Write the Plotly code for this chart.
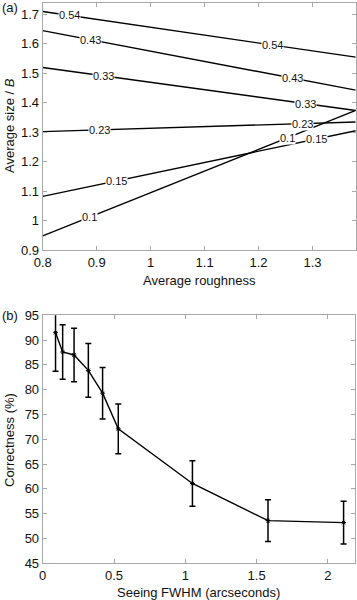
import plotly.graph_objects as go

# ---- Panel (a): contour lines ----
levels = ["0.54", "0.43", "0.33", "0.23", "0.15", "0.1"]
rough_x = [0.8, 1.38]
size_left = [1.71, 1.645, 1.52, 1.302, 1.082, 0.948]
size_right = [1.555, 1.443, 1.374, 1.335, 1.305, 1.374]
label_x1 = [0.85, 0.889, 0.912, 0.906, 0.936, 0.886]
label_x2 = [1.226, 1.263, 1.287, 1.281, 1.307, 1.254]
a_xticks = [0.8, 0.9, 1.0, 1.1, 1.2, 1.3]
a_yticks = [0.9, 1.0, 1.1, 1.2, 1.3, 1.4, 1.5, 1.6, 1.7]

# ---- Panel (b): correctness vs seeing ----
seeing = [0.09, 0.14, 0.22, 0.32, 0.42, 0.53, 1.05, 1.58, 2.11]
correct = [91.5, 87.6, 87.0, 83.9, 79.3, 72.1, 61.1, 53.6, 53.2]
err = [7.8, 5.5, 5.4, 5.4, 5.2, 5.0, 4.6, 4.2, 4.3]
b_xticks = [0, 0.5, 1, 1.5, 2]
b_yticks = [45, 50, 55, 60, 65, 70, 75, 80, 85, 90, 95]

W, H = 357, 600
FONT = "Liberation Sans, Arial, Helvetica, sans-serif"
AX = "#a8a8a8"

fig = go.Figure()

annotations = []
for lev, yl, yr, lx1, lx2 in zip(levels, size_left, size_right, label_x1, label_x2):
    fig.add_trace(go.Scatter(x=rough_x, y=[yl, yr], mode="lines",
                             line=dict(color="black", width=1.4),
                             xaxis="x", yaxis="y", showlegend=False))
    for lx in (lx1, lx2):
        ly = yl + (yr - yl) * (lx - rough_x[0]) / (rough_x[1] - rough_x[0])
        annotations.append(dict(x=lx, y=ly, xref="x", yref="y", text=lev,
                                showarrow=False, bgcolor="white", borderpad=0,
                                font=dict(size=11, color="#111", family=FONT)))

fig.add_trace(go.Scatter(x=seeing, y=correct, mode="lines+markers",
                         line=dict(color="black", width=1.4),
                         marker=dict(symbol="asterisk-open", size=4, color="black",
                                     line=dict(width=1, color="black")),
                         error_y=dict(type="data", array=err, visible=True,
                                      color="black", thickness=1.5, width=3),
                         xaxis="x2", yaxis="y2", showlegend=False))

x_dom = [42.7 / W, 355.7 / W]
axis_common = dict(showline=True, linecolor=AX, linewidth=1, mirror="ticks",
                   ticks="inside", ticklen=4, tickcolor=AX, showgrid=False,
                   zeroline=False, automargin=False,
                   tickfont=dict(size=13, color="#111", family=FONT))

fig.update_layout(
    width=W, height=H,
    margin=dict(l=0, r=0, t=0, b=0),
    paper_bgcolor="white", plot_bgcolor="white",
    font=dict(family=FONT, color="#111"),
    xaxis=dict(domain=x_dom, range=[0.8, 1.38], tickvals=a_xticks,
               anchor="y", **axis_common),
    yaxis=dict(domain=[1 - 250 / H, 1 - 2.7 / H], range=[0.9, 1.74],
               tickvals=a_yticks, anchor="x", **axis_common),
    xaxis2=dict(domain=[42.7 / W, 355 / W], range=[0, 2.19], tickvals=b_xticks,
                anchor="y2", **axis_common),
    yaxis2=dict(domain=[1 - 563.3 / H, 1 - 315.3 / H], range=[45, 95],
                tickvals=b_yticks, anchor="x2", **axis_common),
)

annotations += [
    dict(x=0.0, y=1 - 7 / H, xref="paper", yref="paper", text="(a)",
         showarrow=False, xanchor="left", yanchor="middle", font=dict(size=13)),
    dict(x=0.0, y=1 - 315 / H, xref="paper", yref="paper", text="(b)",
         showarrow=False, xanchor="left", yanchor="middle", font=dict(size=13)),
    dict(x=10 / W, y=1 - 126 / H, xref="paper", yref="paper",
         text="Average size / <i>B</i>", textangle=-90, showarrow=False,
         xanchor="center", yanchor="middle", font=dict(size=13)),
    dict(x=199 / W, y=1 - 280 / H, xref="paper", yref="paper",
         text="Average roughness", showarrow=False,
         xanchor="center", yanchor="middle", font=dict(size=13)),
    dict(x=10 / W, y=1 - 440 / H, xref="paper", yref="paper",
         text="Correctness (%)", textangle=-90, showarrow=False,
         xanchor="center", yanchor="middle", font=dict(size=13)),
    dict(x=198 / W, y=1 - 592 / H, xref="paper", yref="paper",
         text="Seeing FWHM (arcseconds)", showarrow=False,
         xanchor="center", yanchor="middle", font=dict(size=13)),
]
fig.update_layout(annotations=annotations)

fig.write_html("out.html",
               config={"displayModeBar": False},
               post_script="document.body.style.margin='0';"
                           "document.body.style.overflow='hidden';")
